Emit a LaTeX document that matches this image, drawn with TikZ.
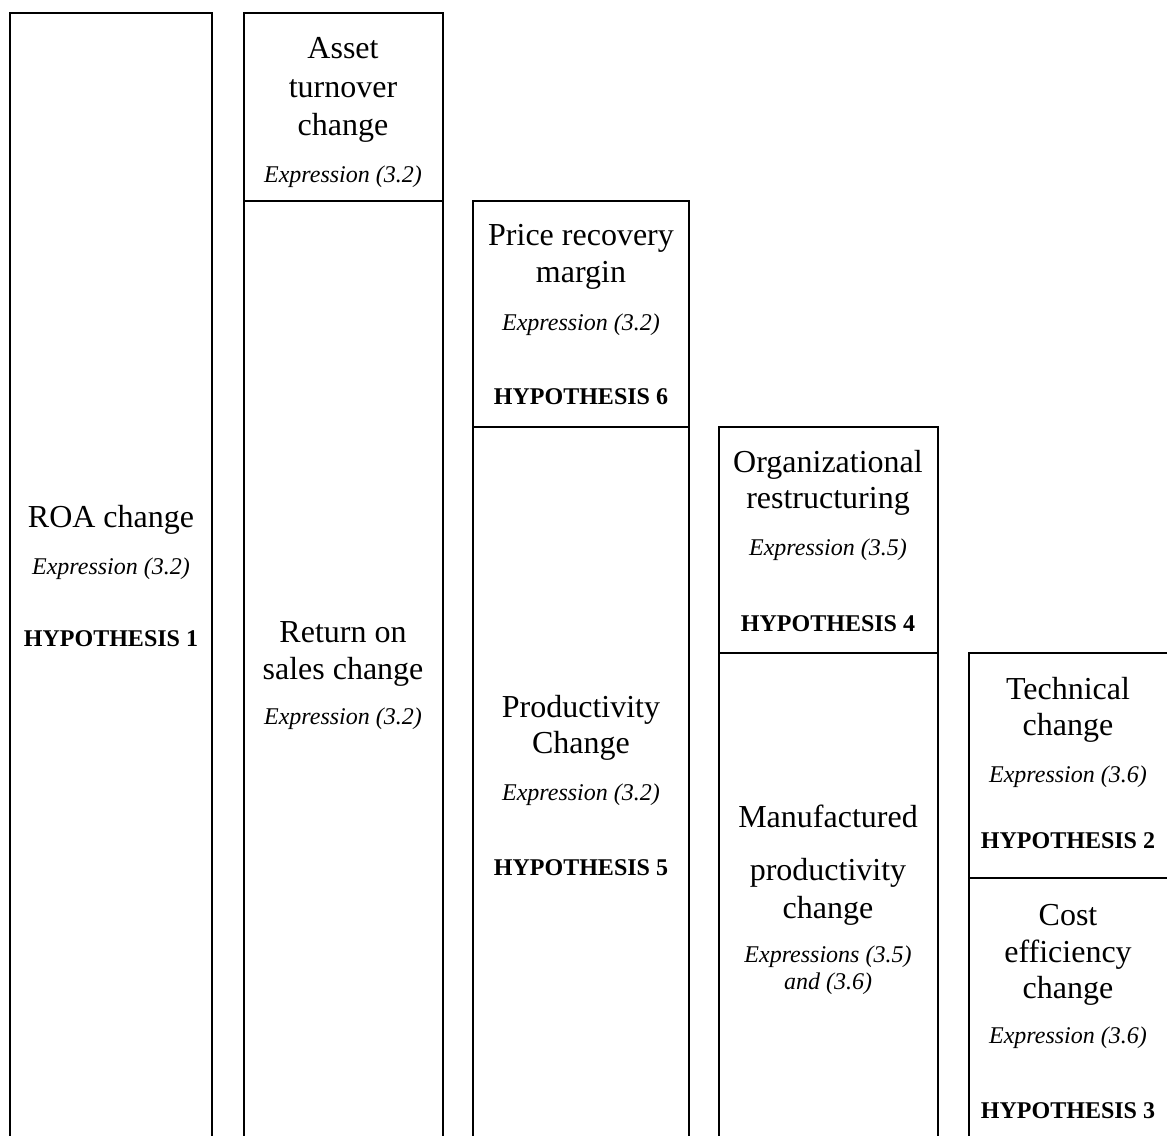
\documentclass[tikz,border=0pt]{standalone}
\usepackage{fontspec}
\setmainfont{Liberation Serif}
\usetikzlibrary{positioning}

\begin{document}
\begin{tikzpicture}[
    x=0.5pt, y=-0.5pt,
    Box/.style={
        draw,
        line width=1.4pt
    },
    Big/.style={
        anchor=base,
        inner sep=0pt,
        font=\fontsize{16}{19}\selectfont
    },
    Expr/.style={
        anchor=base,
        inner sep=0pt,
        font=\fontsize{12}{14}\selectfont\itshape
    },
    Hyp/.style={
        anchor=base,
        inner sep=0pt,
        font=\fontsize{12}{14}\selectfont\bfseries
    }
    ]
    \clip (0,0) rectangle (1167,1135);

    % columns
    \draw[Box] (10,13) rectangle (212,1160);
    \draw[Box] (244,13) rectangle (443,201);
    \draw[Box] (244,201) rectangle (443,1160);
    \draw[Box] (473,201) rectangle (689,427);
    \draw[Box] (473,427) rectangle (689,1160);
    \draw[Box] (719,427) rectangle (938,653);
    \draw[Box] (719,653) rectangle (938,1160);
    \draw[Box] (969,653) rectangle (1175,878);
    \draw[Box] (969,878) rectangle (1175,1160);

    % ROA
    \node[Big] (roa) at (111,527) {ROA change};
    \node[Expr] (roaexpr) at (111,574) {Expression (3.2)};
    \node[Hyp] (hypone) at (111,646) {HYPOTHESIS 1};

    % asset turnover
    \node[Big] (assetone) at (343,58) {Asset};
    \node[Big] (assettwo) at (343,97) {turnover};
    \node[Big] (assetthree) at (343,135) {change};
    \node[Expr] (assetexpr) at (343,182) {Expression (3.2)};

    % return on sales
    \node[Big] (rosone) at (343,642) {Return on};
    \node[Big] (rostwo) at (343,679) {sales change};
    \node[Expr] (rosexpr) at (343,724) {Expression (3.2)};

    % price recovery
    \node[Big] (priceone) at (581,245) {Price recovery};
    \node[Big] (pricetwo) at (581,282) {margin};
    \node[Expr] (priceexpr) at (581,330) {Expression (3.2)};
    \node[Hyp] (hypsix) at (581,404) {HYPOTHESIS 6};

    % productivity
    \node[Big] (prodone) at (581,717) {Productivity};
    \node[Big] (prodtwo) at (581,753) {Change};
    \node[Expr] (prodexpr) at (581,800) {Expression (3.2)};
    \node[Hyp] (hypfive) at (581,875) {HYPOTHESIS 5};

    % organizational restructuring
    \node[Big] (orgone) at (828,472) {Organizational};
    \node[Big] (orgtwo) at (828,508) {restructuring};
    \node[Expr] (orgexpr) at (828,555) {Expression (3.5)};
    \node[Hyp] (hypfour) at (828,631) {HYPOTHESIS 4};

    % manufactured productivity
    \node[Big] (manone) at (828,827) {Manufactured};
    \node[Big] (mantwo) at (828,880) {productivity};
    \node[Big] (manthree) at (828,918) {change};
    \node[Expr] (manexprone) at (828,962) {Expressions (3.5)};
    \node[Expr] (manexprtwo) at (828,989) {and (3.6)};

    % technical change
    \node[Big] (techone) at (1068,699) {Technical};
    \node[Big] (techtwo) at (1068,735) {change};
    \node[Expr] (techexpr) at (1068,782) {Expression (3.6)};
    \node[Hyp] (hyptwo) at (1068,848) {HYPOTHESIS 2};

    % cost efficiency
    \node[Big] (costone) at (1068,925) {Cost};
    \node[Big] (costtwo) at (1068,962) {efficiency};
    \node[Big] (costthree) at (1068,998) {change};
    \node[Expr] (costexpr) at (1068,1043) {Expression (3.6)};
    \node[Hyp] (hypthree) at (1068,1118) {HYPOTHESIS 3};
\end{tikzpicture}
\end{document}
